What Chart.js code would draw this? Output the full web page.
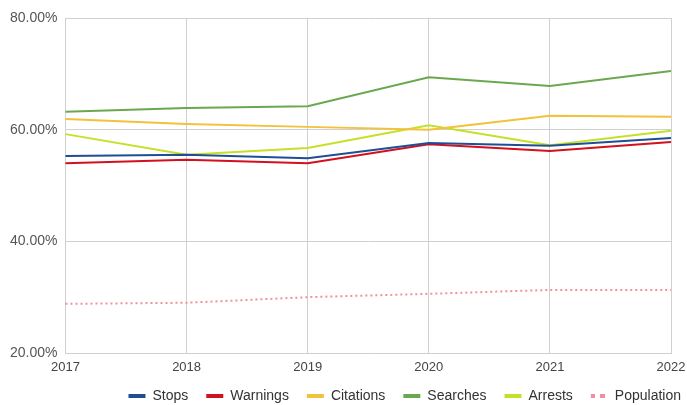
<!DOCTYPE html>
<html lang="en">
<head>
    <meta charset="UTF-8">
    <title>Stop outcomes by year</title>
    <script src="https://cdn.jsdelivr.net/npm/chart.js"></script>
    <style>
        html, body { margin: 0; padding: 0; background: #fff; }
        #wrap { width: 687px; height: 405px; }
    </style>
</head>
<body>
    <div id="wrap"><canvas id="outcomesChart"></canvas></div>

    <script>
        const years = ['2017', '2018', '2019', '2020', '2021', '2022'];
        const stops = [55.3, 55.5, 54.9, 57.6, 57.1, 58.5];
        const warnings = [54.0, 54.6, 54.0, 57.4, 56.2, 57.8];
        const citations = [61.9, 61.0, 60.5, 60.0, 62.5, 62.3];
        const searches = [63.2, 63.9, 64.2, 69.4, 67.8, 70.5];
        const arrests = [59.2, 55.5, 56.7, 60.8, 57.2, 59.8];
        const population = [28.8, 29.0, 30.0, 30.6, 31.3, 31.3];
        const yTicks = [20, 40, 60, 80];

        const pink = '#f0909c';
        const font = 'Liberation Sans, Arial, sans-serif';

        // dotted swatch for the population legend entry
        function dotPattern() {
            const c = document.createElement('canvas');
            c.width = 10; c.height = 10;
            const g = c.getContext('2d');
            g.fillStyle = pink;
            g.fillRect(0, 0, 5, 10);
            return g.createPattern(c, 'repeat');
        }

        function line(label, data, color, extra) {
            return Object.assign({
                label: label,
                data: data,
                borderColor: color,
                backgroundColor: color,
                borderWidth: 2,
                pointRadius: 0,
                tension: 0
            }, extra || {});
        }

        const ctx = document.getElementById('outcomesChart').getContext('2d');
        new Chart(ctx, {
            type: 'line',
            data: {
                labels: years,
                datasets: [
                    line('Stops', stops, '#1f4e94'),
                    line('Warnings', warnings, '#d2101e'),
                    line('Citations', citations, '#f2c23c'),
                    line('Searches', searches, '#6aa84f'),
                    line('Arrests', arrests, '#c6e028'),
                    line('Population', population, pink, { borderDash: [2, 3] })
                ]
            },
            options: {
                responsive: true,
                maintainAspectRatio: false,
                animation: false,
                layout: { padding: { top: 18, right: -12, left: 2, bottom: -8 } },
                plugins: {
                    tooltip: { enabled: false },
                    legend: {
                        position: 'bottom',
                        align: 'end',
                        labels: {
                            boxWidth: 17,
                            boxHeight: 4,
                            padding: 18,
                            color: '#333',
                            font: { family: font, size: 14 },
                            generateLabels: chart => chart.data.datasets.map((ds, i) => ({
                                text: ds.label,
                                fillStyle: ds.label === 'Population' ? dotPattern() : ds.borderColor,
                                strokeStyle: ds.borderColor,
                                lineWidth: 0,
                                datasetIndex: i,
                                fontColor: '#333'
                            }))
                        }
                    }
                },
                scales: {
                    x: {
                        grid: { color: '#d0d0d0', drawTicks: false },
                        border: { color: '#d0d0d0' },
                        ticks: {
                            padding: 8,
                            color: '#444',
                            maxRotation: 0,
                            font: { family: font, size: 13, lineHeight: 1 }
                        },
                        // year labels may run past the plot edge; keep the plot wide
                        afterFit: s => { s.height = 18; s.paddingRight = 16; }
                    },
                    y: {
                        min: yTicks[0],
                        max: yTicks[yTicks.length - 1],
                        afterBuildTicks: axis => { axis.ticks = yTicks.map(v => ({ value: v })); },
                        grid: { color: '#d0d0d0', drawTicks: false },
                        border: { color: '#d0d0d0' },
                        ticks: {
                            padding: 8,
                            color: '#555',
                            font: { family: font, size: 14 },
                            callback: v => v.toFixed(2) + '%'
                        },
                        afterFit: s => { s.paddingTop = 0; s.paddingBottom = 0; }
                    }
                }
            }
        });
    </script>
</body>
</html>
